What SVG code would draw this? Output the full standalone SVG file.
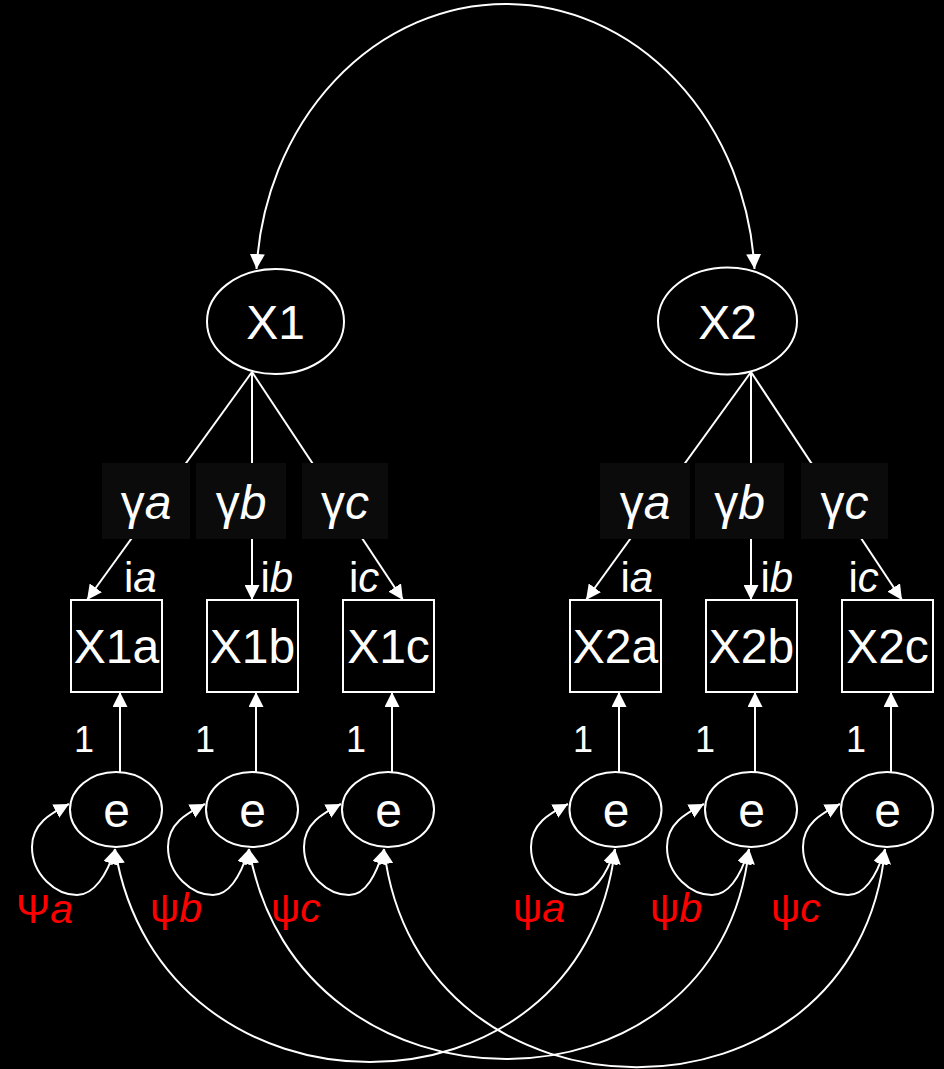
<svg xmlns="http://www.w3.org/2000/svg" width="944" height="1069" viewBox="0 0 944 1069">
  <defs>
    <style>
      .ln { stroke: #ffffff; stroke-width: 2; fill: none; }
      .ar { marker-end: url(#head); }
      .ar2 { marker-start: url(#head); marker-end: url(#head); }
      .nd { stroke: #ffffff; stroke-width: 2; fill: #000000; }
      .lbox { fill: #0b0b0b; }
      text { font-family: "Liberation Sans", Arial, Helvetica, sans-serif; fill: #ffffff; }
      .big { font-size: 48px; text-anchor: middle; }
      .lbl { font-size: 42px; }
      .one { font-size: 36px; }
      .red { font-size: 41px; fill: #ff0000; }
      .it { font-style: italic; }
    </style>
    <marker id="head" viewBox="0 0 15 15" refX="15" refY="7.5" markerWidth="15" markerHeight="15" markerUnits="userSpaceOnUse" orient="auto-start-reverse">
      <path d="M0,0 L15,7.5 L0,15 Z" fill="#ffffff"/>
    </marker>
  </defs>

  <rect x="0" y="0" width="944" height="1069" fill="#000000"/>

  <g id="connectors">
    <!-- covariance between the two latent factors -->
    <path class="ln ar2" d="M256.5,269 A249.5,283 0 0 1 754.5,269"/>

    <!-- factor loadings X1 -->
    <path class="ln ar" d="M252,372 L87,600"/>
    <path class="ln ar" d="M252,372 L252,600"/>
    <path class="ln ar" d="M252,372 L403,600"/>
    <!-- factor loadings X2 -->
    <path class="ln ar" d="M751,372 L586,600"/>
    <path class="ln ar" d="M751,372 L751,600"/>
    <path class="ln ar" d="M751,372 L902,600"/>

    <!-- residual paths -->
    <path class="ln ar" d="M120,772 L120,692"/>
    <path class="ln ar" d="M256,772 L256,692"/>
    <path class="ln ar" d="M392,772 L392,692"/>
    <path class="ln ar" d="M619,772 L619,692"/>
    <path class="ln ar" d="M755,772 L755,692"/>
    <path class="ln ar" d="M891,772 L891,692"/>

    <!-- residual variances (self loops) -->
    <path class="ln ar2" d="M115,849 C107,875 94,895 77,895 C56,895 32,875 32,847 C32,822 54,812 69,804"/>
    <path class="ln ar2" d="M249,849 C241,875 230,895 213,895 C192,895 168,875 168,847 C168,822 190,812 205,804"/>
    <path class="ln ar2" d="M384,849 C376,875 366,895 349,895 C328,895 304,875 304,847 C304,822 326,812 341,804"/>
    <path class="ln ar2" d="M615,849 C607,875 593,895 576,895 C555,895 531,875 531,847 C531,822 553,812 568,804"/>
    <path class="ln ar2" d="M749,849 C741,875 729,895 712,895 C691,895 667,875 667,847 C667,822 689,812 704,804"/>
    <path class="ln ar2" d="M885,849 C877,875 865,895 848,895 C827,895 803,875 803,847 C803,822 825,812 840,804"/>

    <!-- residual covariances across factors -->
    <path class="ln ar2" d="M115,849 C161,1133 582,1133 615,849"/>
    <path class="ln ar2" d="M249,849 C298,1129 719,1129 749,849"/>
    <path class="ln ar2" d="M384,849 C418,1140 857,1140 885,849"/>

    <!-- loading labels -->
    <g id="loading-labels">
      <rect class="lbox" x="102" y="463" width="88" height="76"/>
      <rect class="lbox" x="196" y="463" width="90" height="76"/>
      <rect class="lbox" x="302" y="463" width="86" height="76"/>
      <rect class="lbox" x="600" y="463" width="90" height="76"/>
      <rect class="lbox" x="695" y="463" width="89" height="76"/>
      <rect class="lbox" x="801" y="463" width="87" height="76"/>
      <text class="big" x="146" y="519">γ<tspan class="it">a</tspan></text>
      <text class="big" x="241" y="519">γ<tspan class="it">b</tspan></text>
      <text class="big" x="345" y="519">γ<tspan class="it">c</tspan></text>
      <text class="big" x="645" y="519">γ<tspan class="it">a</tspan></text>
      <text class="big" x="739.5" y="519">γ<tspan class="it">b</tspan></text>
      <text class="big" x="844.5" y="519">γ<tspan class="it">c</tspan></text>
    </g>

    <!-- intercept labels -->
    <text class="lbl" x="124" y="592">i<tspan class="it">a</tspan></text>
    <text class="lbl" x="260.5" y="592">i<tspan class="it">b</tspan></text>
    <text class="lbl" x="349" y="592">i<tspan class="it">c</tspan></text>
    <text class="lbl" x="620.5" y="592">i<tspan class="it">a</tspan></text>
    <text class="lbl" x="760.5" y="592">i<tspan class="it">b</tspan></text>
    <text class="lbl" x="848.5" y="592">i<tspan class="it">c</tspan></text>

    <!-- fixed residual loadings -->
    <text class="one" x="74" y="752">1</text>
    <text class="one" x="195" y="752">1</text>
    <text class="one" x="346" y="752">1</text>
    <text class="one" x="573" y="752">1</text>
    <text class="one" x="695" y="752">1</text>
    <text class="one" x="846" y="752">1</text>

    <!-- residual variance labels -->
    <text class="red" x="16" y="923">Ψ<tspan class="it">a</tspan></text>
    <text class="red" x="150" y="922">ψ<tspan class="it">b</tspan></text>
    <text class="red" x="271" y="922">ψ<tspan class="it">c</tspan></text>
    <text class="red" x="513" y="922">ψ<tspan class="it">a</tspan></text>
    <text class="red" x="650" y="922">ψ<tspan class="it">b</tspan></text>
    <text class="red" x="771" y="922">ψ<tspan class="it">c</tspan></text>
  </g>

  <!-- latent factors -->
  <g id="X1">
    <ellipse class="nd" cx="275.5" cy="321.5" rx="68.5" ry="52.5"/>
    <text class="big" x="275.5" y="339">X1</text>
  </g>
  <g id="X2">
    <ellipse class="nd" cx="727.5" cy="321" rx="69.5" ry="53.5"/>
    <text class="big" x="727.5" y="339">X2</text>
  </g>

  <!-- observed indicators -->
  <g id="X1a"><rect class="nd" x="71" y="600" width="91" height="92"/><text class="big" x="116.5" y="663">X1a</text></g>
  <g id="X1b"><rect class="nd" x="207" y="600" width="91" height="92"/><text class="big" x="252.5" y="663">X1b</text></g>
  <g id="X1c"><rect class="nd" x="343" y="600" width="91" height="92"/><text class="big" x="388.5" y="663">X1c</text></g>
  <g id="X2a"><rect class="nd" x="570" y="600" width="91" height="92"/><text class="big" x="615.5" y="663">X2a</text></g>
  <g id="X2b"><rect class="nd" x="706" y="600" width="91" height="92"/><text class="big" x="751.5" y="663">X2b</text></g>
  <g id="X2c"><rect class="nd" x="842" y="600" width="91" height="92"/><text class="big" x="887.5" y="663">X2c</text></g>

  <!-- residual terms -->
  <g id="e1a"><ellipse class="nd" cx="116" cy="809.5" rx="46" ry="37.5"/><text class="big" x="116.5" y="827">e</text></g>
  <g id="e1b"><ellipse class="nd" cx="252" cy="809.5" rx="46" ry="37.5"/><text class="big" x="252.5" y="827">e</text></g>
  <g id="e1c"><ellipse class="nd" cx="388" cy="809.5" rx="46" ry="37.5"/><text class="big" x="388.5" y="827">e</text></g>
  <g id="e2a"><ellipse class="nd" cx="615.5" cy="809.5" rx="46" ry="37.5"/><text class="big" x="616" y="827">e</text></g>
  <g id="e2b"><ellipse class="nd" cx="751" cy="809.5" rx="46" ry="37.5"/><text class="big" x="751.5" y="827">e</text></g>
  <g id="e2c"><ellipse class="nd" cx="887" cy="809.5" rx="46" ry="37.5"/><text class="big" x="887.5" y="827">e</text></g>
</svg>
